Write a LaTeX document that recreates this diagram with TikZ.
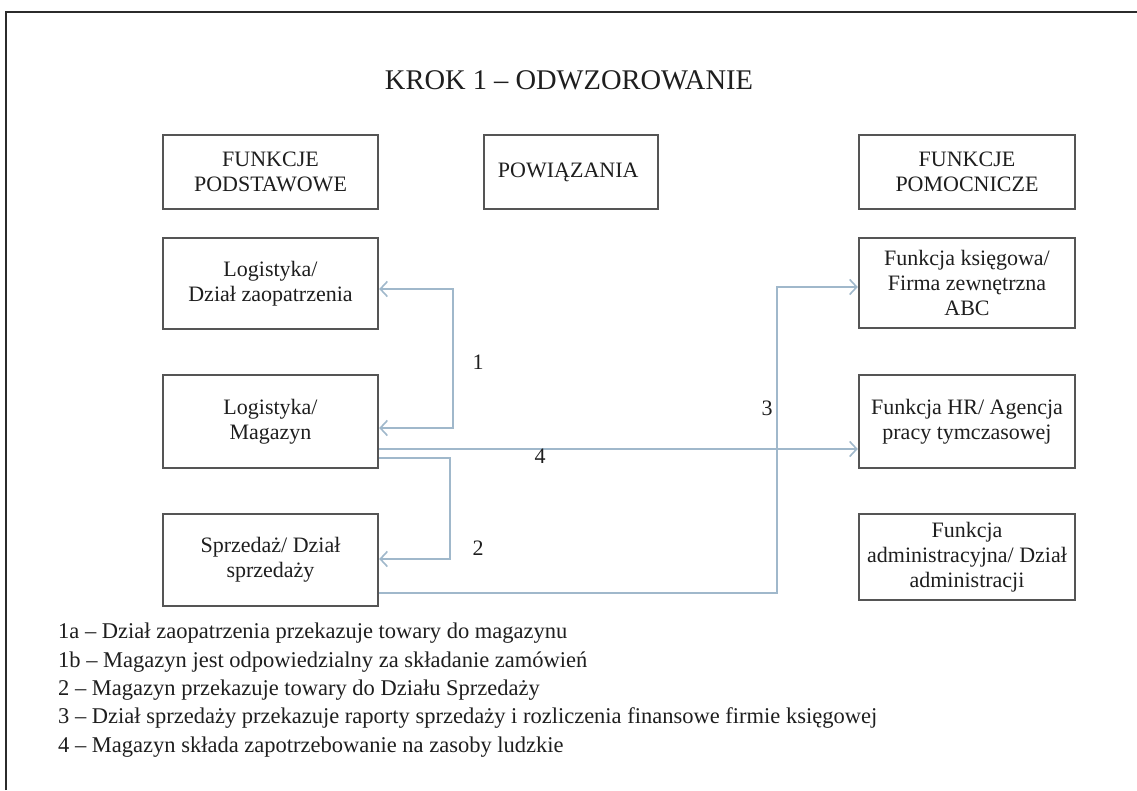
\documentclass[tikz,border=0pt]{standalone}
\usepackage{fontspec}
\setmainfont{Liberation Serif}
\usetikzlibrary{arrows.meta,positioning}
\definecolor{FrameLine}{HTML}{2B2B2B}
\definecolor{BoxLine}{HTML}{555555}
\definecolor{BoxText}{HTML}{1E1E1E}
\definecolor{LinkLine}{HTML}{A0B8CB}
\tikzset{
  funcbox/.style={
    draw=BoxLine,
    line width=2.4pt,
    minimum width=215pt,
    minimum height=91pt,
    inner sep=2pt,
    align=center,
    font=\fontsize{22}{25}\selectfont,
    text=BoxText,
  },
  headbox/.style={
    funcbox,
    minimum height=74pt,
  },
  link/.style={
    line width=2pt,
    draw=LinkLine,
  },
  linktip/.style={
    -{Straight Barb[length=7pt,width=15pt,line width=1.6pt]},
  },
  linklabel/.style={
    font=\fontsize{22}{25}\selectfont,
    text=BoxText,
    inner sep=0pt,
  }
}

\begin{document}
\begin{tikzpicture}[x=1pt,y=-1pt]
  \useasboundingbox (0,0) rectangle (1137,790);
  \draw[FrameLine, line width=2pt] (6,790) -- (6,12) -- (1137,12);

  \node[
    font=\fontsize{28.5}{32}\selectfont,
    text=BoxText
  ] (title) at (569,80) {KROK 1 – ODWZOROWANIE};

  \node[
    headbox
  ] (hdrbasic) at (270.5,172) {
    FUNKCJE\\PODSTAWOWE
  };

  \node[
    headbox,
    minimum width=174pt
  ] (hdrlinks) at (571,172) {
    POWIĄZANIA
  };

  \node[
    headbox,
    minimum width=216pt
  ] (hdrsupport) at (967,172) {
    FUNKCJE\\POMOCNICZE
  };

  \node[
    funcbox
  ] (supply) at (270.5,283.5) {
    Logistyka/\\Dział zaopatrzenia
  };

  \node[
    funcbox,
    minimum height=93pt
  ] (store) at (270.5,421.5) {
    Logistyka/\\Magazyn
  };

  \node[
    funcbox,
    minimum height=92pt
  ] (sales) at (270.5,560) {
    Sprzedaż/ Dział\\sprzedaży
  };

  \node[
    funcbox,
    minimum width=216pt,
    minimum height=90pt
  ] (account) at (967,283) {
    Funkcja księgowa/\\Firma zewnętrzna\\ABC
  };

  \node[
    funcbox,
    minimum width=216pt,
    minimum height=93pt
  ] (hr) at (967,421.5) {
    Funkcja HR/ Agencja\\pracy tymczasowej
  };

  \node[
    funcbox,
    minimum width=216pt,
    minimum height=86pt
  ] (admin) at (967,557) {
    Funkcja\\administracyjna/ Dział\\administracji
  };

  \coordinate (bend3) at (777,287);

  \draw[link, {Straight Barb[length=7pt,width=15pt,line width=1.6pt]}-{Straight Barb[length=7pt,width=15pt,line width=1.6pt]}]
    ([yshift=-5.5pt]supply.east) -- ++(74,0) |- ([yshift=-6.5pt]store.east);
  \draw[link, linktip] ([yshift=-36.5pt]store.east) -- ++(71,0) |- ([yshift=1pt]sales.east);
  \draw[link, linktip] ([yshift=-27.5pt]store.east) -- ([yshift=-27.5pt]hr.west);
  \draw[link, linktip] ([yshift=-33pt]sales.east) -| (bend3) -- (bend3 -| account.west);

  \node[linklabel] (lab1) at (478,362) {1};
  \node[linklabel] (lab2) at (478,548) {2};
  \node[linklabel] (lab3) at (767,408) {3};
  \node[linklabel] (lab4) at (540,456) {4};

  \node[
    anchor=north west,
    align=left,
    inner sep=0pt,
    font=\fontsize{22.5}{28.3}\selectfont,
    text=BoxText
  ] (legend) at (58,623) {
    1a – Dział zaopatrzenia przekazuje towary do magazynu\\
    1b – Magazyn jest odpowiedzialny za składanie zamówień\\
    2 – Magazyn przekazuje towary do Działu Sprzedaży\\
    3 – Dział sprzedaży przekazuje raporty sprzedaży i rozliczenia finansowe firmie księgowej\\
    4 – Magazyn składa zapotrzebowanie na zasoby ludzkie
  };
\end{tikzpicture}
\end{document}
